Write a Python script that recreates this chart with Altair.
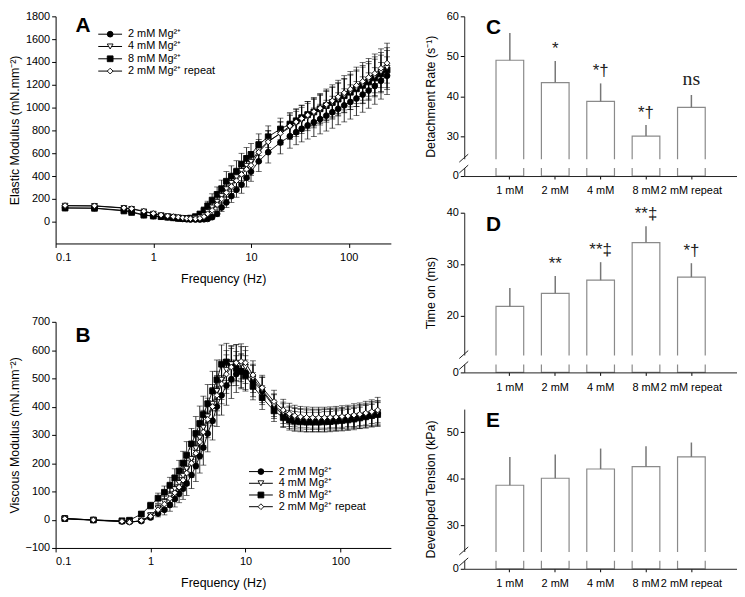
import altair as alt
import pandas as pd

FONT = "Liberation Sans, Arial, Helvetica, sans-serif"

# ---------------- data ----------------
series_names = ["2 mM Mg²⁺", "4 mM Mg²⁺", "8 mM Mg²⁺", "2 mM Mg²⁺ repeat"]
draw_order = ["2 mM Mg²⁺", "8 mM Mg²⁺", "4 mM Mg²⁺", "2 mM Mg²⁺ repeat"]

freq = [0.125, 0.25, 0.5, 0.6, 0.8, 1.0, 1.2, 1.4, 1.6, 1.8,
        2.0, 2.2, 2.4, 2.7, 3.0, 3.3, 3.6, 4.0, 4.5, 5.0,
        5.6, 6.3, 7.1, 8.0, 9.0, 10, 12, 15, 20, 25,
        29, 33, 38, 44, 51, 59, 68, 78, 90, 104,
        120, 139, 160, 185, 214, 247]

# Panel A: elastic modulus
A_2mM = [122, 120, 100, 88, 60, 50, 45, 40, 35, 30,
         25, 22, 20, 20, 20, 22, 25, 40, 70, 125,
         170, 225, 280, 325, 385, 440, 530, 610, 695, 750,
         785, 815, 845, 872, 900, 930, 960, 990, 1020, 1050,
         1080, 1115, 1150, 1190, 1235, 1280]
A_4mM = [140, 138, 120, 112, 90, 70, 57, 49, 43, 38,
         33, 29, 27, 30, 38, 55, 85, 125, 175, 225,
         285, 340, 390, 445, 490, 525, 625, 705, 775, 825,
         858, 888, 918, 948, 978, 1008, 1040, 1072, 1105, 1138,
         1170, 1205, 1240, 1275, 1312, 1350]
A_8mM = [120, 118, 95, 82, 58, 50, 45, 40, 35, 30,
         28, 28, 32, 45, 68, 100, 140, 190, 240, 290,
         355, 400, 440, 505, 555, 590, 675, 745, 813, 856,
         885, 912, 938, 962, 990, 1018, 1045, 1075, 1105, 1135,
         1165, 1195, 1225, 1260, 1295, 1330]
A_rep = [142, 140, 122, 115, 93, 73, 59, 51, 45, 40,
         35, 30, 27, 26, 30, 45, 70, 100, 150, 200,
         255, 310, 360, 415, 460, 495, 610, 700, 775, 840,
         875, 905, 935, 965, 995, 1028, 1060, 1095, 1130, 1162,
         1195, 1230, 1265, 1300, 1345, 1390]

A_2mM_err = [12, 12, 10, 10, 8, 8, 8, 8, 8, 8,
             8, 8, 8, 8, 8, 10, 12, 15, 25, 35,
             45, 55, 65, 75, 80, 85, 90, 95, 100, 105,
             110, 115, 120, 125, 130, 135, 140, 140, 145, 150,
             150, 155, 155, 160, 160, 165]
A_4mM_err = [10, 10, 10, 10, 8, 8, 8, 8, 8, 8,
             8, 8, 8, 10, 12, 15, 25, 35, 45, 55,
             65, 75, 80, 85, 90, 90, 95, 95, 100, 105,
             110, 115, 120, 125, 130, 135, 140, 145, 150, 155,
             160, 165, 165, 170, 170, 175]
A_8mM_err = [12, 12, 10, 10, 8, 8, 8, 8, 8, 8,
             8, 10, 12, 15, 20, 30, 40, 55, 65, 75,
             85, 90, 95, 95, 95, 95, 95, 95, 95, 100,
             105, 110, 115, 120, 125, 130, 135, 140, 145, 150,
             155, 160, 160, 165, 165, 170]
A_rep_err = [10, 10, 10, 10, 8, 8, 8, 8, 8, 8,
             8, 8, 8, 10, 12, 18, 25, 35, 45, 55,
             62, 70, 75, 80, 85, 88, 92, 95, 100, 105,
             110, 115, 120, 125, 130, 135, 140, 145, 150, 155,
             160, 165, 165, 170, 170, 175]

# Panel B: viscous modulus
B_2mM = [4, -1, -6, -8, -5, 8, 22, 35, 52, 73,
         92, 110, 128, 158, 190, 225, 255, 305, 350, 400,
         440, 475, 497, 515, 525, 520, 490, 455, 400, 370,
         360, 355, 352, 350, 350, 350, 351, 352, 353, 355,
         357, 360, 363, 367, 371, 375]
B_4mM = [3, -2, -7, -9, -4, 15, 40, 62, 85, 108,
         130, 155, 180, 215, 252, 290, 325, 365, 410, 455,
         495, 530, 550, 555, 550, 540, 500, 460, 405, 378,
         366, 360, 357, 356, 355, 355, 356, 357, 358, 360,
         362, 365, 368, 372, 376, 380]
B_8mM = [4, -1, -4, -2, 20, 50, 76, 97, 122, 148,
         172, 200, 228, 268, 305, 340, 372, 410, 455, 495,
         550, 558, 550, 535, 525, 510, 472, 432, 385, 362,
         352, 348, 346, 345, 345, 345, 346, 347, 349, 351,
         353, 356, 360, 364, 368, 372]
B_rep = [4, -1, -6, -9, -3, 12, 35, 55, 75, 95,
         115, 140, 165, 200, 235, 275, 310, 355, 400, 440,
         480, 515, 540, 555, 560, 555, 512, 467, 418, 388,
         375, 368, 364, 362, 361, 361, 361, 362, 363, 365,
         367, 370, 373, 377, 382, 388]

B_2mM_err = [5, 5, 5, 5, 6, 8, 12, 18, 22, 28,
             32, 38, 42, 48, 55, 60, 62, 65, 68, 70,
             70, 70, 68, 65, 62, 60, 55, 48, 42, 40,
             38, 38, 38, 38, 38, 38, 38, 38, 38, 38,
             38, 38, 40, 40, 42, 42]
B_4mM_err = [5, 5, 5, 5, 6, 10, 15, 20, 25, 30,
             35, 40, 45, 50, 55, 60, 62, 65, 68, 70,
             70, 68, 66, 64, 62, 58, 50, 45, 40, 38,
             36, 36, 36, 36, 36, 36, 36, 36, 37, 37,
             38, 38, 40, 40, 42, 42]
B_8mM_err = [5, 5, 5, 5, 8, 12, 18, 22, 28, 32,
             38, 42, 48, 55, 60, 62, 65, 68, 70, 70,
             68, 66, 62, 60, 58, 55, 48, 42, 38, 36,
             35, 35, 35, 35, 35, 35, 36, 36, 36, 37,
             37, 38, 38, 40, 40, 42]
B_rep_err = [5, 5, 5, 5, 6, 10, 14, 18, 24, 28,
             34, 38, 44, 50, 55, 60, 62, 65, 68, 70,
             70, 68, 66, 64, 62, 58, 50, 44, 40, 38,
             37, 37, 37, 37, 37, 37, 37, 37, 38, 38,
             38, 40, 40, 42, 42, 45]

# Bar panels
cats = ["1 mM", "2 mM", "4 mM", "8 mM", "2 mM repeat"]
C_val = [49.0, 43.4, 38.7, 30.0, 37.2]
C_err = [6.8, 5.4, 4.5, 2.8, 3.1]
C_sig = ["", "*", "*†", "*†", "ns"]
D_val = [21.8, 24.35, 26.9, 34.2, 27.5]
D_err = [3.6, 3.35, 3.5, 3.15, 2.7]
D_sig = ["", "**", "**‡", "**‡", "*†"]
E_val = [38.6, 40.1, 42.1, 42.6, 44.7]
E_err = [6.1, 5.1, 4.4, 4.4, 3.1]
E_sig = ["", "", "", "", ""]

for arr in [A_2mM, A_4mM, A_8mM, A_rep, A_2mM_err, A_4mM_err, A_8mM_err, A_rep_err,
            B_2mM, B_4mM, B_8mM, B_rep, B_2mM_err, B_4mM_err, B_8mM_err, B_rep_err]:
    assert len(arr) == len(freq), len(arr)

# ---------------- helpers ----------------
SHAPES = ["circle", "triangle-down", "square", "diamond"]
FILLS = ["black", "white", "black", "white"]
SHAPE_SCALE = alt.Scale(domain=series_names, range=SHAPES)
FILL_SCALE = alt.Scale(domain=series_names, range=FILLS)


def long_df(series_vals, series_errs):
    rows = []
    lookup = dict(zip(series_names, zip(series_vals, series_errs)))
    for s in draw_order:
        vals, errs = lookup[s]
        for f, v, e in zip(freq, vals, errs):
            rows.append({"series": s, "freq": f, "value": v, "lo": v - e, "hi": v + e})
    return pd.DataFrame(rows)


def letter(ch, px, py):
    return alt.Chart(pd.DataFrame({"t": [ch]})).mark_text(
        font=FONT, fontSize=21, fontWeight="bold", align="left", baseline="middle", color="black"
    ).encode(text="t:N", x=alt.value(px), y=alt.value(py))


def legend_block(lx, ly, dy):
    """Hand-drawn legend: a short line, the marker and the label for each series."""
    legdf = pd.DataFrame({"series": series_names, "row": list(range(len(series_names)))})
    Y = alt.Y("row:Q", scale=alt.Scale(domain=[0, 3], range=[ly, ly + 3 * dy]), axis=None)
    base = alt.Chart(legdf)
    ln = base.mark_rule(color="black", strokeWidth=1).encode(
        x=alt.value(lx), x2=alt.value(lx + 24), y=Y)
    pt = base.mark_point(filled=True, stroke="black", strokeWidth=0.9, size=34, opacity=1).encode(
        x=alt.value(lx + 12), y=Y,
        shape=alt.Shape("series:N", scale=SHAPE_SCALE, legend=None),
        fill=alt.Fill("series:N", scale=FILL_SCALE, legend=None))
    tx = base.mark_text(font=FONT, fontSize=11, align="left", baseline="middle", color="black").encode(
        x=alt.value(lx + 30), y=Y, text="series:N")
    return alt.layer(ln, pt, tx)


def freq_panel(vals, errs, xmax, ydom, yvals, ytitle, ch, letter_y, leg_x, leg_y, leg_dy, W, H):
    df = long_df(vals, errs)
    xax = alt.Axis(values=[0.1, 1, 10, 100], format="~g", title="Frequency (Hz)",
                   titlePadding=10, labelPadding=4)
    xsc = alt.Scale(type="log", domain=[0.1, xmax], nice=False)
    ysc = alt.Scale(domain=ydom, nice=False, zero=False)
    yax = alt.Axis(values=yvals, format="d", title=ytitle, titlePadding=4)
    X = alt.X("freq:Q", scale=xsc, axis=xax)
    base = alt.Chart(df)
    lines = base.mark_line(color="black", strokeWidth=0.9).encode(
        x=X, y=alt.Y("value:Q", scale=ysc, axis=yax), detail="series:N")
    ebar = base.mark_rule(color="black", strokeWidth=0.8).encode(
        x=X, y=alt.Y("lo:Q", scale=ysc, axis=yax), y2="hi:Q")
    cap_hi = base.mark_tick(orient="horizontal", size=6, thickness=0.8, color="black").encode(
        x=X, y=alt.Y("hi:Q", scale=ysc, axis=yax))
    cap_lo = base.mark_tick(orient="horizontal", size=6, thickness=0.8, color="black").encode(
        x=X, y=alt.Y("lo:Q", scale=ysc, axis=yax))
    pts = base.mark_point(filled=True, stroke="black", strokeWidth=0.9, size=34, opacity=1).encode(
        x=X, y=alt.Y("value:Q", scale=ysc, axis=yax),
        shape=alt.Shape("series:N", scale=SHAPE_SCALE, legend=None),
        fill=alt.Fill("series:N", scale=FILL_SCALE, legend=None),
    )
    data_layers = alt.layer(lines, ebar, cap_hi, cap_lo, pts)
    extra = alt.layer(legend_block(leg_x, leg_y, leg_dy), letter(ch, 20, letter_y))
    return alt.layer(data_layers, extra).resolve_scale(y="independent").properties(width=W, height=H)


def bar_panel(vals, errs, sigs, ymin, ymax, yvals, ytitle, ch, W, H):
    df = pd.DataFrame({"cat": cats, "value": vals, "err": errs, "sig": sigs})
    base = alt.Chart(df).transform_calculate(top="datum.value + datum.err")
    X = alt.X("cat:N", sort=cats, scale=alt.Scale(paddingInner=0.39, paddingOuter=0.7),
              axis=alt.Axis(title=None, labelAngle=0, tickSize=3, labelPadding=6, zindex=1,
                            domainColor="#222"))
    ysc = alt.Scale(domain=[ymin, ymax], nice=False, zero=False)
    yax = alt.Axis(values=yvals, title=ytitle, titlePadding=9,
                   labelExpr=f"datum.value == {ymin} ? '0' : datum.label", domainColor="#222")
    bars = base.mark_bar(fill="white", stroke="#8a8a8a", strokeWidth=1.2).encode(
        x=X, y=alt.Y("value:Q", scale=ysc, axis=yax), y2=alt.datum(ymin))
    ebar = base.mark_rule(color="#777777", strokeWidth=1.5).encode(
        x=X, y=alt.Y("value:Q", scale=ysc, axis=yax), y2="top:Q")
    one = pd.DataFrame({"k": [0]})
    mask = alt.Chart(one).mark_rect(fill="white").encode(
        x=alt.value(-6), x2=alt.value(W), y=alt.value(H - 17), y2=alt.value(H - 8))
    sl1 = alt.Chart(one).mark_rule(color="#222", strokeWidth=1).encode(
        x=alt.value(-5), x2=alt.value(4), y=alt.value(H - 3), y2=alt.value(H - 11))
    sl2 = alt.Chart(one).mark_rule(color="#222", strokeWidth=1).encode(
        x=alt.value(-5), x2=alt.value(4), y=alt.value(H - 14), y2=alt.value(H - 22))
    layers = [bars, ebar, mask, sl1, sl2]
    stars = base.transform_filter("datum.sig != '' && datum.sig != 'ns'").mark_text(
        font=FONT, fontSize=17, baseline="bottom", dy=-3, color="#222").encode(
        x=X, y=alt.Y("top:Q", scale=ysc, axis=yax), text="sig:N")
    ns = base.transform_filter("datum.sig == 'ns'").mark_text(
        font="Liberation Serif, Times New Roman, serif", fontSize=20, baseline="bottom", dy=-6,
        color="#222").encode(x=X, y=alt.Y("top:Q", scale=ysc, axis=yax), text="sig:N")
    if any(s for s in sigs):
        layers += [stars, ns]
    layers.append(letter(ch, 22, 12))
    return alt.layer(*layers).properties(width=W, height=H)


# ---------------- panels ----------------
WL = 338
A = freq_panel([A_2mM, A_4mM, A_8mM, A_rep], [A_2mM_err, A_4mM_err, A_8mM_err, A_rep_err],
               270, [-190, 1800], list(range(0, 1801, 200)), "Elastic Modulus (mN.mm⁻²)",
               "A", 10, 43, 18, 12.4, WL, 229)
B = freq_panel([B_2mM, B_4mM, B_8mM, B_rep], [B_2mM_err, B_4mM_err, B_8mM_err, B_rep_err],
               340, [-100, 700], list(range(-100, 701, 100)), "Viscous Modulus (mN.mm⁻²)",
               "B", 14, 195, 151, 11.8, WL, 228)

WR = 275
HR = 161
C = bar_panel(C_val, C_err, C_sig, 20, 60, [20, 30, 40, 50, 60], "Detachment Rate (s⁻¹)", "C", WR, HR)
D = bar_panel(D_val, D_err, D_sig, 9, 40, [9, 20, 30, 40], "Time on (ms)", "D", WR, HR)
E = bar_panel(E_val, E_err, E_sig, 20.6, 55, [20.6, 30, 40, 50], "Developed Tension (kPa)", "E", WR, HR)

left = alt.vconcat(A, B, spacing=79, bounds="flush")
right = alt.vconcat(C, D, E, spacing=37, bounds="flush")

chart = alt.hconcat(left, right, spacing=32).properties(
    padding=0, background="white"
).configure_view(stroke=None).configure_axis(
    grid=False, domainColor="black", tickColor="black", labelColor="black", titleColor="black",
    labelFont=FONT, titleFont=FONT, labelFontSize=11, titleFontSize=12.5, titleFontWeight="normal",
    tickSize=4, domainWidth=1, tickWidth=1
)

chart.save("out.html", embed_options={"renderer": "svg", "actions": False})
